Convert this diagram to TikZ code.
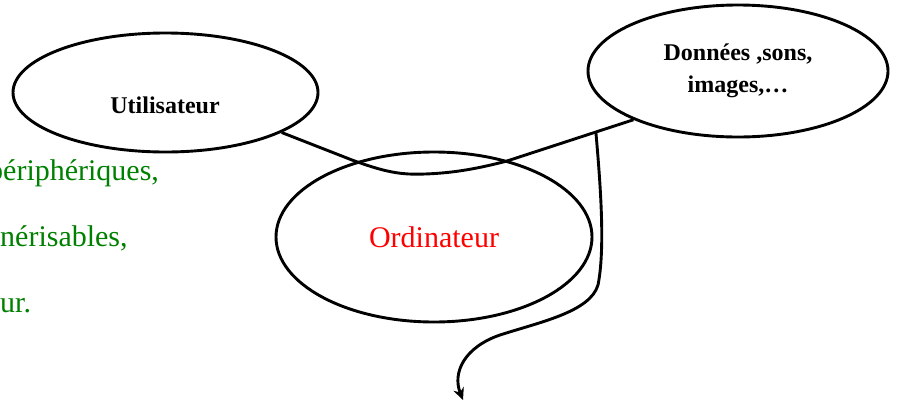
\documentclass[tikz,border=0pt]{standalone}
\usepackage{fontspec}
\setmainfont{Liberation Serif}
\usetikzlibrary{positioning,arrows.meta,shapes.geometric,calc}
\definecolor{textgreen}{RGB}{0,128,0}
\tikzset{
  bubble/.style={draw, ellipse, line width=2.9pt, inner sep=0pt, align=center},
  flowline/.style={line width=2.9pt},
  flowarrow/.style={-{Stealth[length=12pt,width=11pt]}, line width=2.9pt},
  boldlabel/.style={font=\fontsize{24}{32}\selectfont\bfseries, align=center},
  margintext/.style={font=\fontsize{30}{36}\selectfont, text=textgreen, anchor=base west, inner sep=0pt}
}

\begin{document}
\begin{tikzpicture}[x=1pt, y=-1pt]
  \useasboundingbox (0,0) rectangle (897,405);
  % cut-off text on the left margin
  \begin{scope}
    \clip (0,0) rectangle (897,405);
    \node[margintext] (t1) at (-12,180) {périphériques,};
    \node[margintext] (t2) at (0,246) {nérisables,};
    \node[margintext] (t3) at (0,312) {ur.};
  \end{scope}
  % the three bubbles
  \node[bubble, minimum width=305pt, minimum height=119pt] (usr) at (165.5,92.5) {};
  \node[boldlabel] (usrlbl) at (165,105) {Utilisateur};
  \node[bubble, boldlabel, minimum width=300pt, minimum height=132pt] (dat) at (738,71) {Données ,sons,\\images,\dots};
  \node[bubble, minimum width=316pt, minimum height=170pt, text=red, font=\fontsize{30}{36}\selectfont] (pc) at (434,237) {Ordinateur};
  % links
  \coordinate (k1) at (352,160);
  \coordinate (k2) at (507,161);
  \draw[flowline] (usr.-19) -- (k1) .. controls (385,172) and (400,175) .. (425,174)
    .. controls (455,173) and (480,168) .. (k2) -- (dat.205);
  \coordinate (tap) at ($(k2)!0.703!(dat.205)$);
  \draw[flowarrow] (tap) .. controls (601,190) and (605,250) .. (598,285)
    .. controls (590,312) and (540,322) .. (500,335)
    .. controls (465,347) and (452,372) .. (463,400);
\end{tikzpicture}
\end{document}
